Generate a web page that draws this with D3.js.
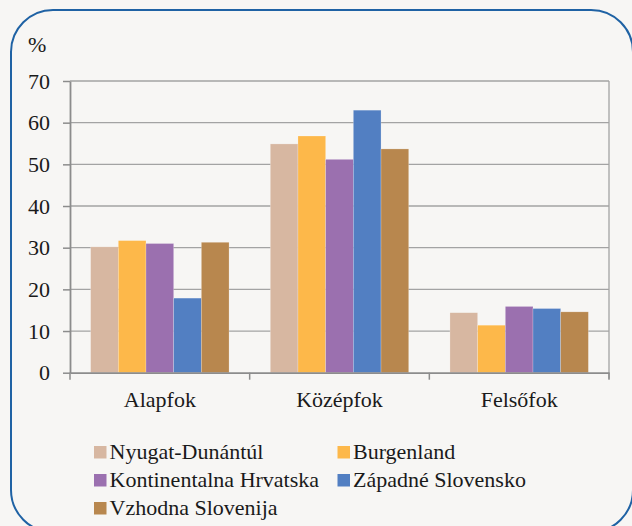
<!DOCTYPE html>
<html>
<head>
<meta charset="utf-8">
<script src="https://cdn.jsdelivr.net/npm/d3@7"></script>
<style>
  body { margin: 0; background: #f7f6f4; }
  svg text { font-family: 'Liberation Serif', 'Times New Roman', Tinos, Times !important; }
</style>
</head>
<body>
<svg width="632" height="526" font-family="Liberation Serif"></svg>
<script>
// education level categories
var categories = ["Alapfok", "Középfok", "Felsőfok"];

// regions (series)
var regions = ["Nyugat-Dunántúl", "Burgenland", "Kontinentalna Hrvatska", "Západné Slovensko", "Vzhodna Slovenija"];

// values in %, one per category
var nyugat = [30.2, 54.9, 14.4];
var burgenland = [31.7, 56.8, 11.4];
var hrvatska = [31.0, 51.2, 15.9];
var slovensko = [17.9, 63.0, 15.4];
var slovenija = [31.3, 53.7, 14.6];

var yTicks = [0, 10, 20, 30, 40, 50, 60, 70];

var colors = ["#d7b7a1", "#fdb84a", "#9b70af", "#527fc2", "#b8874e"];

var series = [nyugat, burgenland, hrvatska, slovensko, slovenija];

let svg = d3.select("svg");

// rounded blue frame
svg.append("rect")
    .attr("x", 11).attr("y", 10)
    .attr("width", 622).attr("height", 522)
    .attr("rx", 42).attr("ry", 42)
    .attr("fill", "#f7f6f4")
    .attr("stroke", "#1f62a4")
    .attr("stroke-width", 2);

const plotLeft = 70, plotRight = 609, plotTop = 81, plotBottom = 372.7;

var x0 = d3.scaleBand()
    .domain(categories)
    .range([plotLeft, plotRight]);

var x1 = d3.scaleBand()
    .domain(d3.range(regions.length))
    .range([0, x0.bandwidth()])
    .paddingInner(0)
    .paddingOuter(0.745);

var y = d3.scaleLinear()
    .domain([0, 70])
    .range([plotBottom, plotTop]);

// gridlines
svg.append("g")
  .selectAll("line")
  .data(yTicks.filter(d => d > 0))
  .enter().append("line")
    .attr("x1", plotLeft).attr("x2", plotRight)
    .attr("y1", d => y(d)).attr("y2", d => y(d))
    .attr("stroke", "#a3a3a3")
    .attr("stroke-width", 1.3);

// right frame line
svg.append("line")
    .attr("x1", plotRight).attr("x2", plotRight)
    .attr("y1", plotTop).attr("y2", plotBottom + 6)
    .attr("stroke", "#a3a3a3")
    .attr("stroke-width", 1.3);

// bars
var groups = svg.append("g")
  .selectAll("g")
  .data(categories)
  .enter().append("g")
    .attr("transform", d => "translate(" + x0(d) + ",0)");

groups.selectAll("rect")
  .data((d, ci) => series.map((s, si) => ({ si: si, v: s[ci] })))
  .enter().append("rect")
    .attr("x", d => x1(d.si))
    .attr("y", d => y(d.v))
    .attr("width", x1.bandwidth())
    .attr("height", d => y(0) - y(d.v))
    .attr("fill", d => colors[d.si])
    .attr("stroke", "#ffffff")
    .attr("stroke-opacity", 0.35)
    .attr("stroke-width", 0.6);

// y axis
var yAxis = svg.append("g")
    .attr("transform", "translate(" + plotLeft + ",0)")
    .call(d3.axisLeft(y).tickValues(yTicks).tickSize(7).tickPadding(13).tickSizeOuter(0));

yAxis.attr("font-family", "Liberation Serif").attr("font-size", 22);
yAxis.select(".domain").attr("stroke", "#8c8c8c").attr("stroke-width", 1.8);
yAxis.selectAll(".tick line").attr("stroke", "#8c8c8c").attr("stroke-width", 1.5);
yAxis.selectAll(".tick text").attr("fill", "#1a1a1a");

// x axis
var xAxis = svg.append("g")
    .attr("transform", "translate(0," + plotBottom + ")")
    .call(d3.axisBottom(x0).tickSize(0).tickPadding(19));

xAxis.attr("font-family", "Liberation Serif").attr("font-size", 22);
xAxis.select(".domain").attr("stroke", "#8c8c8c").attr("stroke-width", 1.8);
xAxis.selectAll(".tick text").attr("fill", "#1a1a1a");

// category boundary ticks
xAxis.append("g")
  .selectAll("line")
  .data(categories.map(c => x0(c)).concat([plotRight]))
  .enter().append("line")
    .attr("x1", d => d).attr("x2", d => d)
    .attr("y1", 0).attr("y2", 7)
    .attr("stroke", "#8c8c8c")
    .attr("stroke-width", 1.5);

// unit label
svg.append("text")
    .attr("x", 28).attr("y", 52)
    .attr("font-size", 22)
    .attr("fill", "#1a1a1a")
    .text("%");

// legend
var legend = svg.append("g")
  .selectAll("g")
  .data(regions)
  .enter().append("g")
    .attr("transform", (d, i) => "translate(" + (i % 2 ? 337.5 : 94) + "," + (446 + Math.floor(i / 2) * 28) + ")");

legend.append("rect")
    .attr("width", 12.5).attr("height", 12.5)
    .attr("fill", (d, i) => colors[i]);

legend.append("text")
    .attr("x", 15.5).attr("y", 13)
    .attr("font-size", 22)
    .attr("fill", "#1a1a1a")
    .text(d => d);
</script>
</body>
</html>
